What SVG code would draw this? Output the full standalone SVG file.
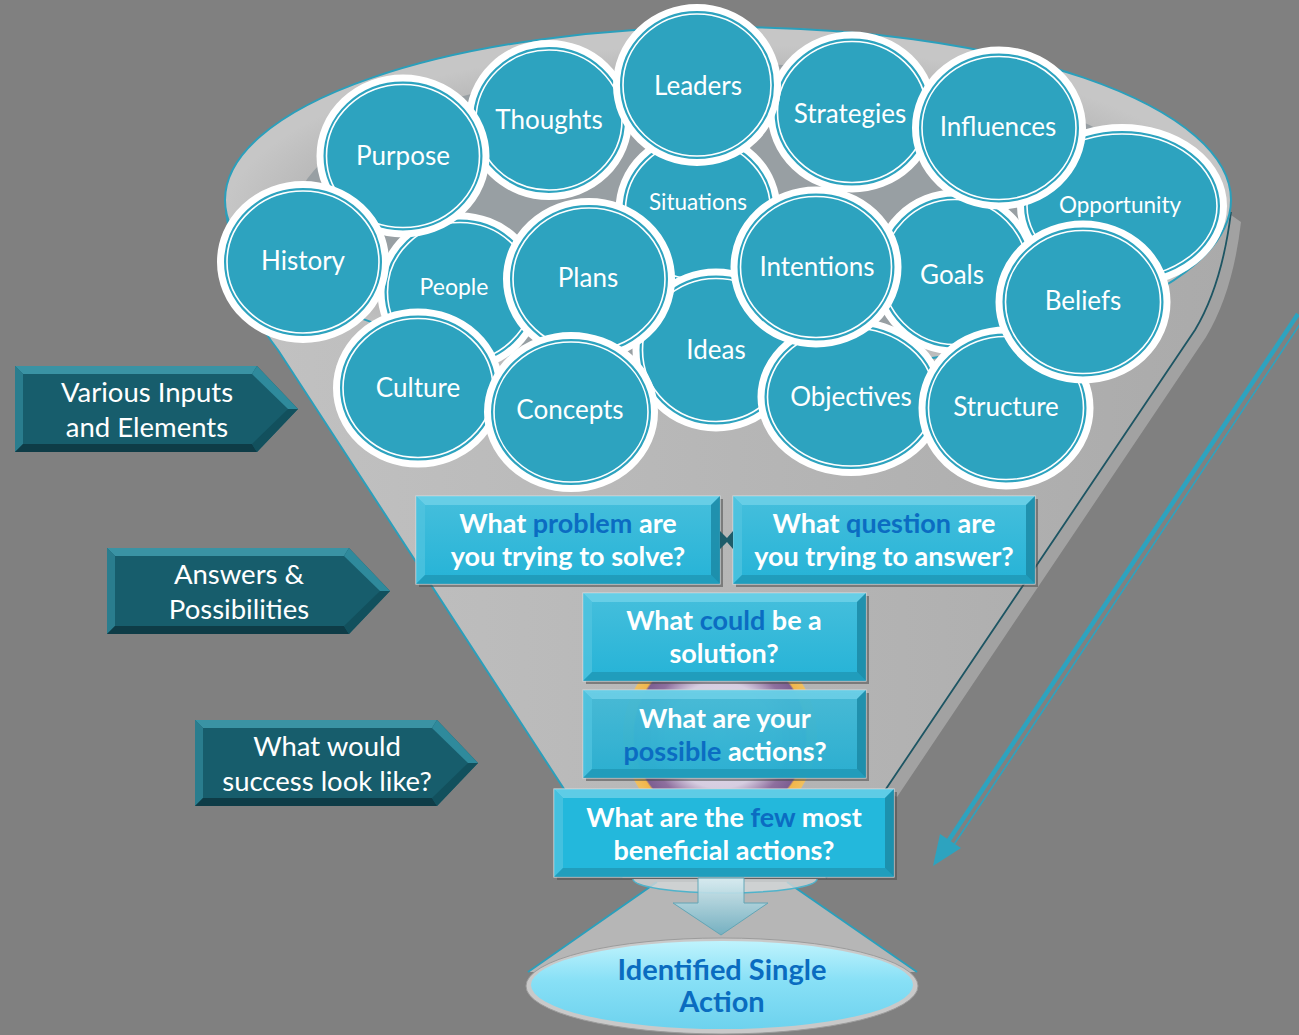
<svg xmlns="http://www.w3.org/2000/svg" width="1299" height="1035" viewBox="0 0 1299 1035">
<style>
.c{fill:#2da3bf;stroke:#ffffff;stroke-width:7}
.ci{fill:none;stroke:#ffffff;stroke-width:1.6}
.ct{font-family:Lato,"Open Sans","Liberation Sans",sans-serif;font-size:26px;fill:#ffffff;text-anchor:middle}
.bt{font-family:Lato,"Open Sans","Liberation Sans",sans-serif;font-size:27px;font-weight:bold;fill:#ffffff;text-anchor:middle}
.hl{fill:#0b6cc2}
.at{font-family:Lato,"Open Sans","Liberation Sans",sans-serif;font-size:27.5px;fill:#ffffff;text-anchor:middle}
.bx{fill:url(#boxG);stroke:#cfd8db;stroke-width:1.2}
.bvT{fill:#73d3ea;opacity:.75}
.bvL{fill:#52c4e0;opacity:.7}
.bvB{fill:#1f97b5;opacity:.8}
.bvR{fill:#1b8aa6;opacity:.85}
.sh{fill:#4a4a4a;opacity:.55}
.ar{fill:#175d6c}
.arT{fill:#3a93a4}
.arL{fill:#2a7d8e}
.arB{fill:#0e3c47}
.arD{fill:#12505d}
.arU{fill:#2f8a9c}
.edge{fill:none;stroke:#2b9fbb;stroke-width:2}
</style>
<defs>
<linearGradient id="coneG" x1="0" y1="0" x2="1" y2="0">
<stop offset="0" stop-color="#c2c2c2"/><stop offset="0.55" stop-color="#b5b5b5"/><stop offset="1" stop-color="#aaaaaa"/>
</linearGradient>
<linearGradient id="boxG" x1="0" y1="0" x2="0" y2="1">
<stop offset="0" stop-color="#46bfdc"/><stop offset="1" stop-color="#25b3d7"/>
</linearGradient>
<linearGradient id="ovalG" x1="0" y1="0" x2="0" y2="1">
<stop offset="0" stop-color="#bff3fd"/><stop offset="0.45" stop-color="#88e0f6"/><stop offset="1" stop-color="#6dd2ee"/>
</linearGradient>
<linearGradient id="downG" x1="0" y1="0" x2="0" y2="1">
<stop offset="0" stop-color="#d9eef3"/><stop offset="1" stop-color="#6fb0c2"/>
</linearGradient>
<radialGradient id="logoG" cx="0.5" cy="0.5" r="0.5">
<stop offset="0" stop-color="#e9e4ee"/><stop offset="0.55" stop-color="#d6cde0"/><stop offset="0.75" stop-color="#8e6f9e"/><stop offset="0.88" stop-color="#7d5f92"/><stop offset="0.9" stop-color="#f2b64a"/><stop offset="1" stop-color="#f0c060"/>
</radialGradient>
<radialGradient id="rimG" cx="0.5" cy="0.55" r="0.5">
<stop offset="0.8" stop-color="#b4b4b4"/><stop offset="1" stop-color="#c6c6c6"/>
</radialGradient>
</defs>

<rect x="0" y="0" width="1299" height="1035" fill="#808080"/>

<g id="funnel">
<path d="M1195,330 Q1222,285 1231,215 L1241,222 Q1233,292 1206,337 L897,797 L885,790 Z" fill="#a2a2a2"/>
<path d="M226,212 Q238,300 278,350 L622,878 L826,878 L1195,330 Q1222,285 1231,212 Z" fill="url(#coneG)"/>
<path d="M226,212 Q238,300 278,350 L622,878" class="edge"/>
<path d="M826,878 L1195,330 Q1222,285 1231,212" fill="none" stroke="#1d5563" stroke-width="1.8"/>
<ellipse cx="728" cy="200" rx="503" ry="173" fill="url(#rimG)" stroke="#2b9fbb" stroke-width="2"/>
<ellipse cx="735" cy="214" rx="440" ry="150" fill="#989fa3"/>
</g>

<g id="nodes-circles">
<g id="n-situations"><ellipse class="c" cx="698" cy="210" rx="79" ry="76"/><ellipse class="ci" cx="698" cy="210" rx="72.5" ry="69.5"/><text class="ct" x="698" y="210" style="font-size:22.5px">Situations</text></g>
<g id="n-opportunity"><ellipse class="c" cx="1122" cy="206" rx="101.5" ry="78.5"/><ellipse class="ci" cx="1122" cy="206" rx="95" ry="72"/><text class="ct" x="1120" y="213" style="font-size:22.5px">Opportunity</text></g>
<g id="n-goals"><ellipse class="c" cx="955" cy="272" rx="79" ry="79"/><ellipse class="ci" cx="955" cy="272" rx="72.5" ry="72.5"/><text class="ct" x="952" y="284">Goals</text></g>
<g id="n-people"><ellipse class="c" cx="460" cy="292" rx="79" ry="76"/><ellipse class="ci" cx="460" cy="292" rx="72.5" ry="69.5"/><text class="ct" x="454" y="295" style="font-size:23px">People</text></g>
<g id="n-ideas"><ellipse class="c" cx="716" cy="350" rx="80" ry="78"/><ellipse class="ci" cx="716" cy="350" rx="73.5" ry="71.5"/><text class="ct" x="716" y="359">Ideas</text></g>
<g id="n-thoughts"><ellipse class="c" cx="549" cy="120" rx="79.5" ry="76.5"/><ellipse class="ci" cx="549" cy="120" rx="73" ry="70"/><text class="ct" x="549" y="129">Thoughts</text></g>
<g id="n-strategies"><ellipse class="c" cx="852" cy="112" rx="81" ry="77"/><ellipse class="ci" cx="852" cy="112" rx="74.5" ry="70.5"/><text class="ct" x="850" y="123">Strategies</text></g>
<g id="n-purpose"><ellipse class="c" cx="403" cy="156" rx="83" ry="78"/><ellipse class="ci" cx="403" cy="156" rx="76.5" ry="71.5"/><text class="ct" x="403" y="165">Purpose</text></g>
<g id="n-objectives"><ellipse class="c" cx="851" cy="397" rx="90" ry="75.5"/><ellipse class="ci" cx="851" cy="397" rx="83.5" ry="69"/><text class="ct" x="851" y="406">Objectives</text></g>
<g id="n-culture"><ellipse class="c" cx="418" cy="388" rx="81.5" ry="76"/><ellipse class="ci" cx="418" cy="388" rx="75" ry="69.5"/><text class="ct" x="418" y="397">Culture</text></g>
<g id="n-plans"><ellipse class="c" cx="589" cy="279" rx="82.5" ry="77.5"/><ellipse class="ci" cx="589" cy="279" rx="76" ry="71"/><text class="ct" x="588" y="287">Plans</text></g>
<g id="n-leaders"><ellipse class="c" cx="697" cy="85" rx="80.5" ry="77.5"/><ellipse class="ci" cx="697" cy="85" rx="74" ry="71"/><text class="ct" x="698" y="95">Leaders</text></g>
<g id="n-influences"><ellipse class="c" cx="999" cy="128" rx="83.5" ry="78"/><ellipse class="ci" cx="999" cy="128" rx="77" ry="71.5"/><text class="ct" x="998" y="136">Influences</text></g>
<g id="n-intentions"><ellipse class="c" cx="816" cy="267" rx="82" ry="77"/><ellipse class="ci" cx="816" cy="267" rx="75.5" ry="70.5"/><text class="ct" x="817" y="276">Intentions</text></g>
<g id="n-history"><ellipse class="c" cx="303" cy="262" rx="82.5" ry="77.5"/><ellipse class="ci" cx="303" cy="262" rx="76" ry="71"/><text class="ct" x="303" y="270">History</text></g>
<g id="n-concepts"><ellipse class="c" cx="571" cy="412" rx="83.5" ry="76.5"/><ellipse class="ci" cx="571" cy="412" rx="77" ry="70"/><text class="ct" x="570" y="419">Concepts</text></g>
<g id="n-structure"><ellipse class="c" cx="1006" cy="408" rx="84" ry="78"/><ellipse class="ci" cx="1006" cy="408" rx="77.5" ry="71.5"/><text class="ct" x="1006" y="416">Structure</text></g>
<g id="n-beliefs"><ellipse class="c" cx="1083" cy="302" rx="84" ry="78"/><ellipse class="ci" cx="1083" cy="302" rx="77.5" ry="71.5"/><text class="ct" x="1083" y="310">Beliefs</text></g>
</g>

<g id="lower-funnel">
<path d="M657,882 L528,972 L917,972 L787,882 Z" fill="#b6b6b6"/>
<path d="M657,882 L528,972 M787,882 L917,972" class="edge"/>
<circle cx="720" cy="735" r="97" fill="url(#logoG)"/>
</g>

<g id="n-problem">
<rect class="sh" x="419" y="499" width="304" height="88"/>
<rect class="bx" x="416" y="496" width="304" height="88"/>
<polygon class="bvT" points="416,496 720,496 711,505 425,505"/>
<polygon class="bvL" points="416,496 425,505 425,575 416,584"/>
<polygon class="bvB" points="416,584 425,575 711,575 720,584"/>
<polygon class="bvR" points="720,496 711,505 711,575 720,584"/>
<text class="bt" x="568" y="533">What <tspan class="hl">problem</tspan> are</text>
<text class="bt" x="568" y="566">you trying to solve?</text>
</g>
<g id="n-question">
<rect class="sh" x="736" y="499" width="302" height="88"/>
<rect class="bx" x="733" y="496" width="302" height="88"/>
<polygon class="bvT" points="733,496 1035,496 1026,505 742,505"/>
<polygon class="bvL" points="733,496 742,505 742,575 733,584"/>
<polygon class="bvB" points="733,584 742,575 1026,575 1035,584"/>
<polygon class="bvR" points="1035,496 1026,505 1026,575 1035,584"/>
<text class="bt" x="884" y="533">What <tspan class="hl">question</tspan> are</text>
<text class="bt" x="884" y="566">you trying to answer?</text>
</g>
<polygon points="720,531 727,538 733,531 733,549 727,542 720,549" fill="#1d5c6a"/>
<g id="n-solution">
<rect class="sh" x="586" y="596" width="283" height="88"/>
<rect class="bx" x="583" y="593" width="283" height="88"/>
<polygon class="bvT" points="583,593 866,593 857,602 592,602"/>
<polygon class="bvL" points="583,593 592,602 592,672 583,681"/>
<polygon class="bvB" points="583,681 592,672 857,672 866,681"/>
<polygon class="bvR" points="866,593 857,602 857,672 866,681"/>
<text class="bt" x="724" y="630">What <tspan class="hl">could</tspan> be a</text>
<text class="bt" x="724" y="663">solution?</text>
</g>
<g id="n-actions">
<rect class="sh" x="586" y="693" width="283" height="88"/>
<rect class="bx" x="583" y="690" width="283" height="88" opacity="0.93"/>
<polygon class="bvT" points="583,690 866,690 857,699 592,699"/>
<polygon class="bvL" points="583,690 592,699 592,769 583,778"/>
<polygon class="bvB" points="583,778 592,769 857,769 866,778"/>
<polygon class="bvR" points="866,690 857,699 857,769 866,778"/>
<text class="bt" x="725" y="728">What are your</text>
<text class="bt" x="725" y="761"><tspan class="hl">possible</tspan> actions?</text>
</g>
<g id="n-few">
<rect class="sh" x="557" y="792" width="340" height="88"/>
<rect class="bx" x="554" y="789" width="340" height="88" style="fill:#23b8dc"/>
<polygon class="bvT" points="554,789 894,789 885,798 563,798"/>
<polygon class="bvL" points="554,789 563,798 563,868 554,877"/>
<polygon class="bvB" points="554,877 563,868 885,868 894,877"/>
<polygon class="bvR" points="894,789 885,798 885,868 894,877"/>
<text class="bt" x="724" y="827">What are the <tspan class="hl">few</tspan> most</text>
<text class="bt" x="724" y="860">beneficial actions?</text>
</g>

<g id="neck">
<path d="M633,879 A92,14 0 0 0 817,879 Z" fill="#d4d8da" opacity="0.8"/>
<path d="M633,879 A92,14 0 0 0 817,879" fill="none" stroke="#4fb3cb" stroke-width="1.5"/>
<path d="M698,878 L744,878 L744,903 L768,903 L721,935 L673,903 L698,903 Z" fill="url(#downG)" opacity="0.9" stroke="#5aa4b6" stroke-width="1"/>
</g>

<g id="n-single">
<ellipse cx="722" cy="986" rx="196" ry="48" fill="#c9c9c9" stroke="#9c9c9c" stroke-width="1"/>
<ellipse cx="722" cy="985" rx="191" ry="44" fill="url(#ovalG)"/>
<text class="bt" x="722" y="980" style="fill:#0a6cc0;font-size:29px">Identified Single</text>
<text class="bt" x="722" y="1012" style="fill:#0a6cc0;font-size:29px">Action</text>
</g>

<g id="n-inputs">
<polygon class="ar" points="15,366 257,366 298,409 257,452 15,452"/>
<polygon class="arT" points="15,366 257,366 252,374 23,374"/>
<polygon class="arL" points="15,366 23,374 23,444 15,452"/>
<polygon class="arB" points="15,452 23,444 252,444 257,452"/>
<polygon class="arU" points="257,366 298,409 288,409 252,374"/>
<polygon class="arD" points="298,409 257,452 252,444 288,409"/>
<text class="at" x="147" y="402">Various Inputs</text>
<text class="at" x="147" y="437">and Elements</text>
</g>
<g id="n-answers">
<polygon class="ar" points="107,548 349,548 390,591 349,634 107,634"/>
<polygon class="arT" points="107,548 349,548 344,556 115,556"/>
<polygon class="arL" points="107,548 115,556 115,626 107,634"/>
<polygon class="arB" points="107,634 115,626 344,626 349,634"/>
<polygon class="arU" points="349,548 390,591 380,591 344,556"/>
<polygon class="arD" points="390,591 349,634 344,626 380,591"/>
<text class="at" x="239" y="584">Answers &amp;</text>
<text class="at" x="239" y="619">Possibilities</text>
</g>
<g id="n-success">
<polygon class="ar" points="195,720 437,720 478,763 437,806 195,806"/>
<polygon class="arT" points="195,720 437,720 432,728 203,728"/>
<polygon class="arL" points="195,720 203,728 203,798 195,806"/>
<polygon class="arB" points="195,806 203,798 432,798 437,806"/>
<polygon class="arU" points="437,720 478,763 468,763 432,728"/>
<polygon class="arD" points="478,763 437,806 432,798 468,763"/>
<text class="at" x="327" y="756">What would</text>
<text class="at" x="327" y="791">success look like?</text>
</g>

<g id="connectors">
<line x1="1298" y1="314" x2="945" y2="846" stroke="#2da3bf" stroke-width="4.5"/>
<line x1="1302" y1="321" x2="949" y2="852" stroke="#2da3bf" stroke-width="1.6"/>
<polygon points="933,866 940,834 961,848" fill="#2da3bf"/>
</g>
</svg>
